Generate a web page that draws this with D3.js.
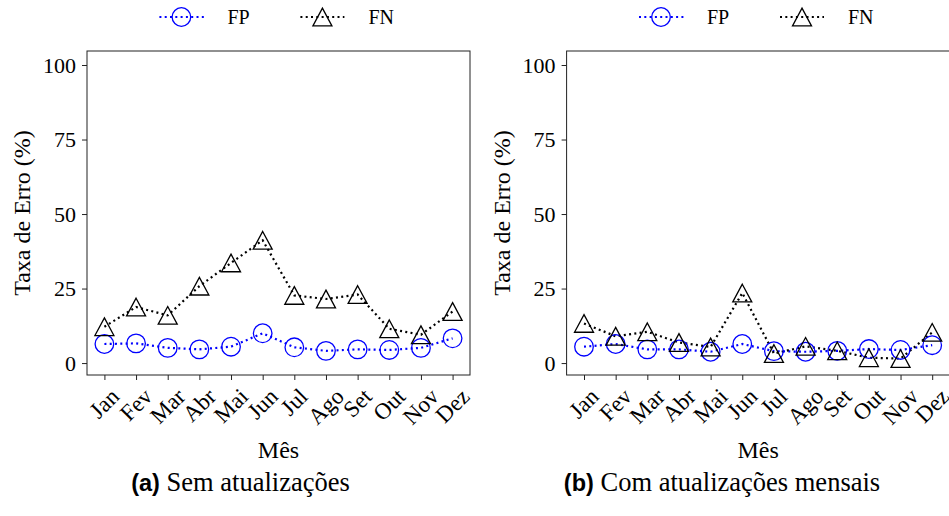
<!DOCTYPE html>
<html>
<head>
<meta charset="utf-8">
<script src="https://cdn.jsdelivr.net/npm/d3@7"></script>
<style>
  body { margin: 0; background: #fff; }
  svg { display: block; }
  .axis path { display: none; }
  .axis line { stroke: #222; stroke-width: 1; }
</style>
</head>
<body>
<svg width="949" height="516"></svg>
<script>
var months = ["Jan", "Fev", "Mar", "Abr", "Mai", "Jun", "Jul", "Ago", "Set", "Out", "Nov", "Dez"]
var yTicks = [0, 25, 50, 75, 100]

// (a) sem atualizações
var fpSem = [6.4, 6.6, 5.1, 4.6, 5.5, 10.0, 5.3, 4.1, 4.6, 4.4, 5.1, 8.3]
var fnSem = [12.2, 18.8, 16.0, 25.8, 33.6, 41.2, 22.7, 21.5, 23.0, 11.5, 9.5, 17.3]
// (b) com atualizações mensais
var fpMensal = [5.5, 6.4, 4.6, 4.6, 3.8, 6.4, 4.0, 3.8, 4.1, 4.7, 4.4, 6.0]
var fnMensal = [13.3, 9.0, 10.5, 6.9, 5.4, 23.5, 3.2, 5.6, 4.1, 1.8, 1.5, 10.3]

var svg = d3.select("svg")
var serif = "Liberation Serif"
var dash = "2,3.3"

function triangle(cx, cy, s) {
    return "M" + cx + "," + (cy - s * 0.93) + "L" + (cx + s) + "," + (cy + s * 0.93) +
        "L" + (cx - s) + "," + (cy + s * 0.93) + "Z"
}

function drawPanel(left, fp, fn, caption) {
    var width = 383, top = 51, bottom = 375
    var g = svg.append("g")

    var xScale = d3.scaleLinear().domain([-0.55, 11.55]).range([left, left + width])
    var yScale = d3.scaleLinear().domain([-4, 104.7]).range([bottom, top])

    // y axis
    g.append("g")
      .attr("class", "axis")
      .attr("transform", "translate(" + left + ",0)")
      .call(d3.axisLeft(yScale).tickValues(yTicks).tickSize(5).tickPadding(6))
      .selectAll("text")
      .attr("font-family", serif).attr("font-size", "22px").attr("fill", "#000")

    // x axis
    g.append("g")
      .attr("class", "axis")
      .attr("transform", "translate(0," + bottom + ")")
      .call(d3.axisBottom(xScale).tickValues(d3.range(months.length)).tickSize(5).tickFormat(""))

    months.forEach(function(m, i) {
        var t = g.append("text")
          .text(m)
          .attr("font-family", serif)
          .attr("font-size", "23px")
          .attr("text-anchor", "middle")
          .attr("dominant-baseline", "central")
        var w = t.node().getComputedTextLength()
        var side = (w + 16) / Math.SQRT2
        var cx = xScale(i), cy = bottom + 12 + side / 2
        t.attr("x", cx).attr("y", cy)
          .attr("transform", "rotate(-45," + cx + "," + cy + ")")
    })

    g.append("rect")
      .attr("x", left).attr("y", top)
      .attr("width", width).attr("height", bottom - top)
      .attr("fill", "none").attr("stroke", "#222").attr("stroke-width", 1)

    var line = d3.line().x(function(d, i) { return xScale(i) }).y(function(d) { return yScale(d) })

    g.append("path").datum(fp).attr("d", line)
      .attr("fill", "none").attr("stroke", "#0000ff").attr("stroke-width", 2.2)
      .attr("stroke-dasharray", dash)
    g.append("path").datum(fn).attr("d", line)
      .attr("fill", "none").attr("stroke", "#000").attr("stroke-width", 2.2)
      .attr("stroke-dasharray", dash)

    g.selectAll(".fp").data(fp).enter().append("circle")
      .attr("cx", function(d, i) { return xScale(i) })
      .attr("cy", function(d) { return yScale(d) })
      .attr("r", 9.3)
      .attr("fill", "none").attr("stroke", "#0000ff").attr("stroke-width", 1.3)
    g.selectAll(".fn").data(fn).enter().append("path")
      .attr("d", function(d, i) { return triangle(xScale(i), yScale(d), 9.5) })
      .attr("fill", "none").attr("stroke", "#000").attr("stroke-width", 1.3)

    // axis titles
    g.append("text")
      .attr("transform", "translate(" + (left - 57) + "," + ((top + bottom) / 2) + ") rotate(-90)")
      .attr("text-anchor", "middle")
      .attr("font-family", serif).attr("font-size", "24px")
      .text("Taxa de Erro (%)")
    g.append("text")
      .attr("x", left + width / 2).attr("y", 458)
      .attr("text-anchor", "middle")
      .attr("font-family", serif).attr("font-size", "24px")
      .text("Mês")

    // legend
    var lx = xScale(0)
    var ly = 17
    var leg = g.append("g")
    leg.append("line").attr("x1", lx + 55).attr("x2", lx + 100).attr("y1", ly).attr("y2", ly)
      .attr("stroke", "#0000ff").attr("stroke-width", 2.2).attr("stroke-dasharray", dash)
    leg.append("circle").attr("cx", lx + 77).attr("cy", ly).attr("r", 9.3)
      .attr("fill", "none").attr("stroke", "#0000ff").attr("stroke-width", 1.3)
    leg.append("text").attr("x", lx + 123).attr("y", ly + 7)
      .attr("font-family", serif).attr("font-size", "20px").text("FP")
    leg.append("line").attr("x1", lx + 196).attr("x2", lx + 240).attr("y1", ly).attr("y2", ly)
      .attr("stroke", "#000").attr("stroke-width", 2.2).attr("stroke-dasharray", dash)
    leg.append("path").attr("d", triangle(lx + 218, ly, 9.5))
      .attr("fill", "none").attr("stroke", "#000").attr("stroke-width", 1.3)
    leg.append("text").attr("x", lx + 264).attr("y", ly + 7)
      .attr("font-family", serif).attr("font-size", "20px").text("FN")

    // caption
    var cap = g.append("text")
      .attr("x", caption.x).attr("y", 491)
      .attr("text-anchor", "middle")
      .attr("font-size", "26.5px")
    cap.append("tspan").attr("font-family", "Liberation Sans")
      .attr("font-weight", "bold").attr("font-size", "23.5px").text(caption.label)
    cap.append("tspan").attr("font-family", serif).text(" " + caption.text)
}

drawPanel(87, fpSem, fnSem, {x: 240.5, label: "(a)", text: "Sem atualizações"})
drawPanel(566.6, fpMensal, fnMensal, {x: 722, label: "(b)", text: "Com atualizações mensais"})
</script>
</body>
</html>
